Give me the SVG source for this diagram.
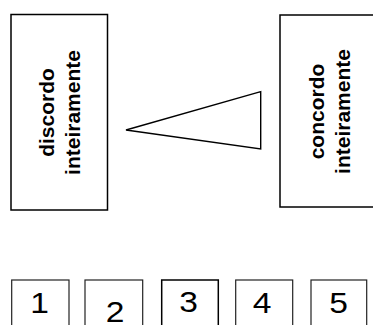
<svg xmlns="http://www.w3.org/2000/svg" width="373" height="325" viewBox="0 0 373 325">
  <style>
    .box { fill: #fff; stroke: #000; stroke-width: 1.5; }
    .lbl { font-family: "Liberation Sans", Arial, sans-serif; font-weight: bold; font-size: 21px; fill: #000; text-anchor: middle; }
    .sq { fill: #fff; stroke: #222; stroke-width: 1.2; }
    .num { font-family: "Liberation Sans", Arial, sans-serif; font-size: 30px; fill: #000; text-anchor: middle; }
  </style>
  <rect width="373" height="325" fill="#fff"/>
  <g id="node-discordo">
    <rect class="box" x="11" y="14.5" width="96.5" height="195.5"/>
    <text class="lbl" transform="translate(53.5,112.5) rotate(-90)">discordo</text>
    <text class="lbl" transform="translate(80,112.5) rotate(-90)">inteiramente</text>
  </g>
  <g id="node-concordo">
    <rect class="box" x="280" y="15" width="110" height="192"/>
    <text class="lbl" transform="translate(323.5,111.5) rotate(-90)">concordo</text>
    <text class="lbl" transform="translate(350,111.5) rotate(-90)">inteiramente</text>
  </g>
  <g id="scale-triangle">
    <polygon points="126,130 260.7,91.7 260.7,149" fill="#fff" stroke="#000" stroke-width="1.4" stroke-linejoin="miter"/>
  </g>
  <g id="connectors"/>
  <g id="node-1">
    <rect class="sq" x="11.7" y="280" width="57.3" height="60"/>
    <text class="num" transform="translate(39.5,313) scale(1.12,1)">1</text>
  </g>
  <g id="node-2">
    <rect class="sq" x="85" y="280" width="57.7" height="60"/>
    <text class="num" transform="translate(115,321.5) scale(1.12,1)">2</text>
  </g>
  <g id="node-3">
    <rect class="sq" x="161.7" y="280" width="56.6" height="60" style="stroke:#000;stroke-width:1.5"/>
    <text class="num" transform="translate(188.5,312) scale(1.12,1)">3</text>
  </g>
  <g id="node-4">
    <rect class="sq" x="235.7" y="280" width="57" height="60"/>
    <text class="num" transform="translate(262,312.5) scale(1.12,1)">4</text>
  </g>
  <g id="node-5">
    <rect class="sq" x="311" y="280" width="55.7" height="60"/>
    <text class="num" transform="translate(338.5,313) scale(1.12,1)">5</text>
  </g>
</svg>
